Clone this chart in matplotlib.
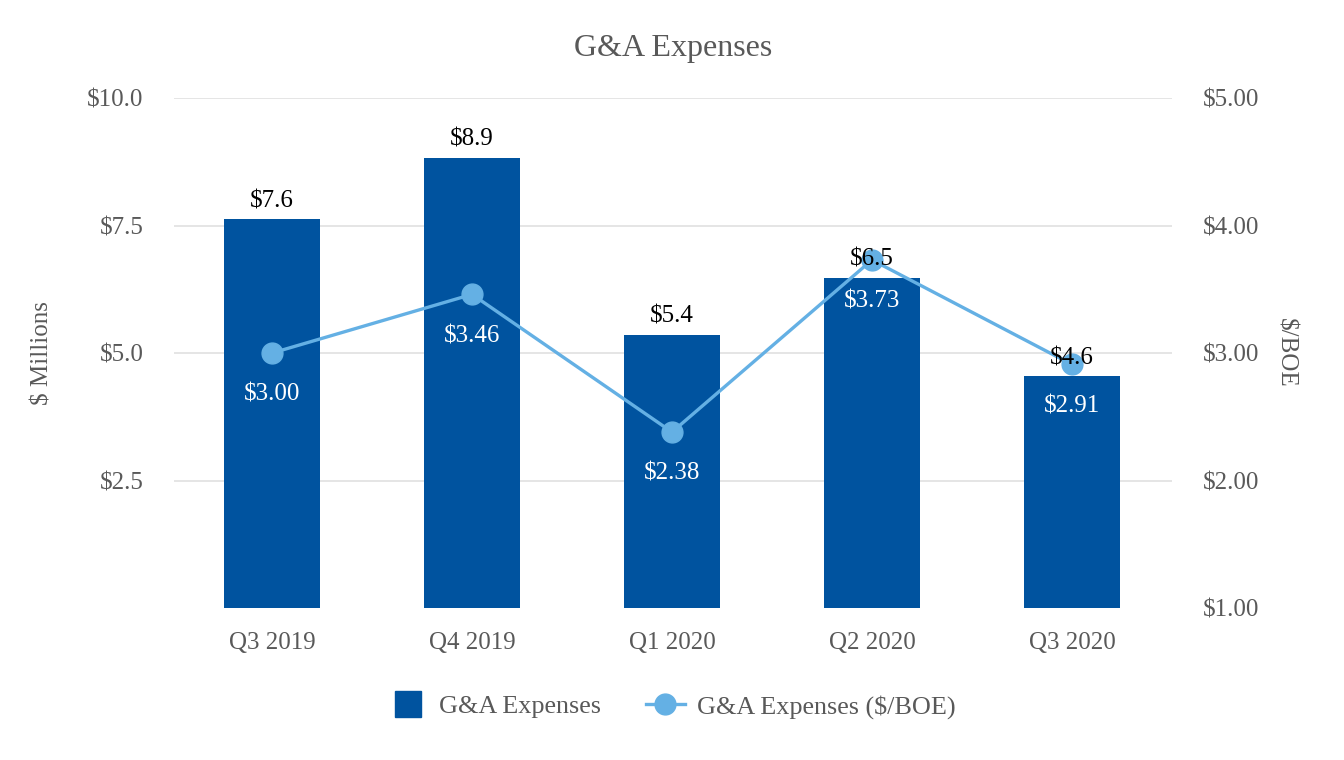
import matplotlib
matplotlib.use("Agg")
import matplotlib.pyplot as plt
from matplotlib.lines import Line2D

# ── data ────────────────────────────────────────────────────
quarters = ["Q3 2019", "Q4 2019", "Q1 2020", "Q2 2020", "Q3 2020"]
ga_musd = [7.62, 8.83, 5.36, 6.48, 4.55]
ga_labels = ["$7.6", "$8.9", "$5.4", "$6.5", "$4.6"]
ga_boe = [3.00, 3.46, 2.38, 3.73, 2.91]

bar_color = "#00539F"
line_color = "#64B0E4"
grey = "#595959"
fs = 18

plt.rcParams["font.family"] = ["Liberation Serif", "DejaVu Serif"]

fig = plt.figure(figsize=(13.44, 7.6), dpi=100)
ax = fig.add_axes([0.1295, 0.2, 0.7425, 0.671])
ax2 = ax.twinx()

x = list(range(len(quarters)))
ax.bar(x, ga_musd, width=0.48, color=bar_color, zorder=2)

ax.set_xlim(-0.49, 4.5)
ax.set_ylim(0, 10)
yt = [2.5, 5.0, 7.5, 10.0]
ax.set_yticks(yt)
ax.set_yticklabels([f"${t:.1f}" for t in yt])
ax.grid(axis="y", color="#E5E5E5", linewidth=1.4, zorder=0)
ax.set_axisbelow(True)
ax.set_xticks(x)
ax.set_xticklabels(quarters)
ax.set_ylabel("$ Millions", fontsize=fs, color=grey, labelpad=24)

ax2.plot(x, ga_boe, color=line_color, linewidth=2.4, marker="o",
         markersize=15, zorder=3)
for xi, v in zip(x, ga_boe):
    ax2.annotate(f"${v:.2f}", (xi, v), xytext=(0, -30), textcoords="offset points",
                 ha="center", va="center", fontsize=fs, color="white")
# bar value labels on the top axes so they sit over the markers
for xi, v, lab in zip(x, ga_musd, ga_labels):
    ax2.annotate(lab, (xi, v), xycoords=("data", ax.transData),
                 xytext=(0, 5), textcoords="offset points",
                 ha="center", va="bottom", fontsize=fs, color="black", zorder=6)
r2 = [1, 2, 3, 4, 5]
ax2.set_ylim(1, 5)
ax2.set_yticks(r2)
ax2.set_yticklabels([f"${t:.2f}" for t in r2])
ax2.set_ylabel("$/BOE", fontsize=fs, color=grey, rotation=270, labelpad=27)

for a in (ax, ax2):
    for s in a.spines.values():
        s.set_visible(False)
    a.tick_params(length=0, labelsize=fs, labelcolor=grey)
ax.tick_params(axis="x", pad=17)
ax.tick_params(axis="y", pad=22)
ax2.tick_params(axis="y", pad=22)

ax.set_title("G&A Expenses", fontsize=23, color=grey, pad=30)

handles = [
    Line2D([], [], marker="s", markersize=19, linestyle="none", color=bar_color),
    Line2D([], [], marker="o", markersize=15, linewidth=2.4, color=line_color),
]
fig.legend(handles, ["G&A Expenses", "G&A Expenses ($/BOE)"], loc="center",
           bbox_to_anchor=(0.5, 0.07), ncol=2, frameon=False, fontsize=18.8,
           labelcolor=grey, handlelength=1.5, columnspacing=1.7, handletextpad=0.45)

plt.savefig("out.png", dpi=100)
plt.close()
